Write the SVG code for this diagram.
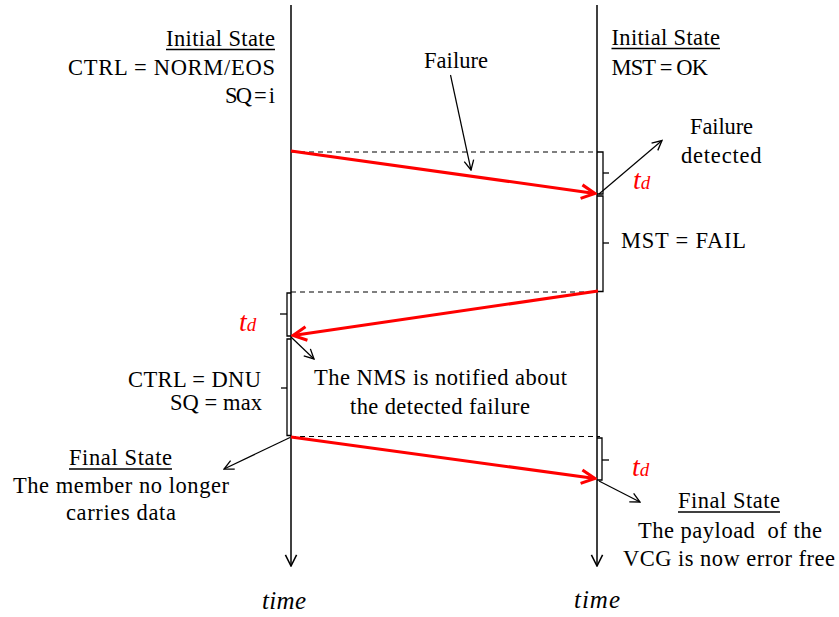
<svg xmlns="http://www.w3.org/2000/svg" width="839" height="617" viewBox="0 0 839 617">
<style>
.t{font-family:"Liberation Serif","Times New Roman",serif;font-size:22.5px;fill:#000}
.i{font-family:"Liberation Serif","Times New Roman",serif;font-style:italic;font-size:25px;fill:#000}
.td{font-family:"Liberation Serif","Times New Roman",serif;font-style:italic;font-size:28px;fill:#ff0000}
.tl{stroke:#000;stroke-width:1.5;fill:none}
.dash{stroke:#000;stroke-width:1.2;stroke-dasharray:5,4;fill:none}
.br{stroke:#000;stroke-width:1.3;fill:none}
.red{stroke:#ff0000;stroke-width:3;fill:none}
.blk{stroke:#000;stroke-width:1.2;fill:none}
.ul{stroke:#000;stroke-width:1.5}
</style>
<defs>
<marker id="ah" viewBox="0 0 10 10" refX="9" refY="5" markerWidth="12" markerHeight="12" markerUnits="userSpaceOnUse" orient="auto">
<path d="M1,1 L9,5 L1,9" fill="none" stroke="#000" stroke-width="1.1"/>
</marker>
<marker id="ahr" viewBox="0 0 10 10" refX="9" refY="5" markerWidth="17" markerHeight="17" markerUnits="userSpaceOnUse" orient="auto">
<path d="M1,1 L9,5 L1,9" fill="none" stroke="#ff0000" stroke-width="1.8"/>
</marker>
<marker id="aht" viewBox="0 0 10 10" refX="9" refY="5" markerWidth="14" markerHeight="14" markerUnits="userSpaceOnUse" orient="auto">
<path d="M1,1 L9,5 L1,9" fill="none" stroke="#000" stroke-width="1.1"/>
</marker>
</defs>

<g id="timeline-left">
<line class="tl" x1="291" y1="5" x2="291" y2="566" marker-end="url(#aht)"/>
<text class="i" x="262" y="609" textLength="44" lengthAdjust="spacing">time</text>
</g>
<g id="timeline-right">
<line class="tl" x1="597" y1="5" x2="597" y2="566" marker-end="url(#aht)"/>
<text class="i" x="574" y="608" textLength="46" lengthAdjust="spacing">time</text>
</g>

<g id="left-initial-state">
<text class="t" x="166" y="46" textLength="109" lengthAdjust="spacing">Initial State</text>
<line class="ul" x1="166" y1="49.5" x2="275" y2="49.5"/>
<text class="t" x="68" y="74.5" textLength="207" lengthAdjust="spacing">CTRL = NORM/EOS</text>
<text class="t" x="225" y="103" textLength="50" lengthAdjust="spacing">SQ = i</text>
</g>

<g id="right-initial-state">
<text class="t" x="611.5" y="45" textLength="108.5" lengthAdjust="spacing">Initial State</text>
<line class="ul" x1="611.5" y1="48.5" x2="720" y2="48.5"/>
<text class="t" x="611.5" y="75" textLength="96.5" lengthAdjust="spacing">MST = OK</text>
</g>

<g id="failure-label">
<text class="t" x="424" y="68" textLength="64" lengthAdjust="spacing">Failure</text>
</g>

<g id="failure-detected-label">
<text class="t" x="690" y="134" textLength="63" lengthAdjust="spacing">Failure</text>
<text class="t" x="681" y="162.5" textLength="80.5" lengthAdjust="spacing">detected</text>
</g>

<g id="mst-fail">
<text class="t" x="621" y="248" textLength="125" lengthAdjust="spacing">MST = FAIL</text>
</g>

<g id="ctrl-dnu">
<text class="t" x="128" y="387" textLength="133" lengthAdjust="spacing">CTRL = DNU</text>
<text class="t" x="170" y="410" textLength="92" lengthAdjust="spacing">SQ = max</text>
</g>

<g id="nms-note">
<text class="t" x="314" y="385" textLength="253" lengthAdjust="spacing">The NMS is notified about</text>
<text class="t" x="350" y="414" textLength="180" lengthAdjust="spacing">the detected failure</text>
</g>

<g id="left-final-state">
<text class="t" x="69" y="465" textLength="103" lengthAdjust="spacing">Final State</text>
<line class="ul" x1="69" y1="469" x2="172" y2="469"/>
<text class="t" x="13" y="493" textLength="216" lengthAdjust="spacing">The member no longer</text>
<text class="t" x="66" y="520" textLength="110" lengthAdjust="spacing">carries data</text>
</g>

<g id="right-final-state">
<text class="t" x="678" y="508" textLength="102" lengthAdjust="spacing">Final State</text>
<line class="ul" x1="678" y1="512" x2="780" y2="512"/>
<text class="t" x="638" y="538" textLength="184" lengthAdjust="spacing" xml:space="preserve">The payload  of the</text>
<text class="t" x="623" y="566" textLength="212" lengthAdjust="spacing">VCG is now error free</text>
</g>

<g id="td-right-1">
<text class="td" x="633" y="189">t<tspan font-size="19">d</tspan></text>
</g>
<g id="td-left">
<text class="td" x="239" y="331">t<tspan font-size="19">d</tspan></text>
</g>
<g id="td-right-3">
<text class="td" x="632" y="476">t<tspan font-size="19">d</tspan></text>
</g>

<g id="connectors">
<line class="dash" x1="291" y1="152" x2="597" y2="152"/>
<line class="dash" x1="291" y1="292" x2="597" y2="292"/>
<line class="dash" x1="291" y1="436.5" x2="600" y2="436.5"/>
<path class="br" d="M597,152 H603 V194 H597"/>
<path class="br" d="M603,173 H609"/>
<path class="br" d="M597,196 H603 V291.5 H597"/>
<path class="br" d="M603,243 H609"/>
<path class="br" d="M291,293 H287 V336 H291"/>
<path class="br" d="M287,314 H280"/>
<path class="br" d="M291,339 H287 V435.5 H291"/>
<path class="br" d="M287,388 H281"/>
<path class="br" d="M597,438 H602 V480 H597"/>
<path class="br" d="M602,460 H609"/>
<line class="red" x1="291" y1="151" x2="595" y2="193.5" marker-end="url(#ahr)"/>
<line class="red" x1="598" y1="291" x2="293" y2="335.5" marker-end="url(#ahr)"/>
<line class="red" x1="291" y1="437" x2="595" y2="478.5" marker-end="url(#ahr)"/>
<line class="blk" x1="450.5" y1="75" x2="471" y2="170" marker-end="url(#ah)"/>
<line class="blk" x1="599" y1="194" x2="662" y2="140.5" marker-end="url(#ah)"/>
<line class="blk" x1="291" y1="337" x2="314" y2="359" marker-end="url(#ah)"/>
<line class="blk" x1="290" y1="437.5" x2="224" y2="469" marker-end="url(#ah)"/>
<line class="blk" x1="599" y1="481" x2="640" y2="502" marker-end="url(#ah)"/>
</g>
</svg>
